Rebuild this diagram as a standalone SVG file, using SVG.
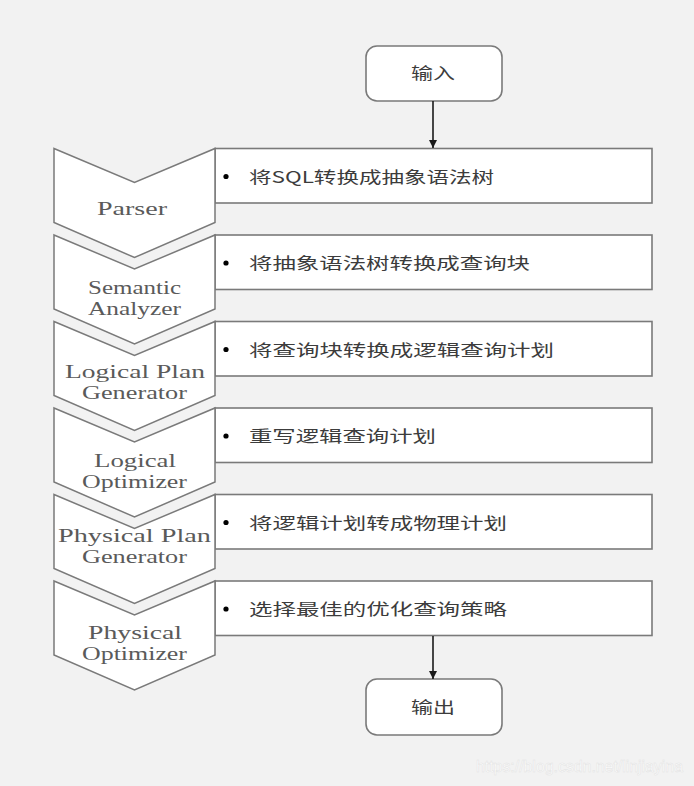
<svg xmlns="http://www.w3.org/2000/svg" width="694" height="786" viewBox="0 0 694 786">
<defs>
<style>
.bg{fill:#f2f2f2}
.chev{fill:#ffffff;stroke:#7a7a7a;stroke-width:1.5;stroke-linejoin:miter}
.box{fill:#ffffff;stroke:#7a7a7a;stroke-width:1.6}
.term{fill:#ffffff;stroke:#7a7a7a;stroke-width:1.6}
.bul{fill:#000000}
.cn{font-family:"Noto Sans CJK SC","Noto Sans",sans-serif;font-size:16px;fill:#3c3c3c}
.lab{font-family:"Liberation Serif","DejaVu Serif",serif;font-size:18px;fill:#5a5a5a;text-anchor:start}
.conn{stroke:#1a1a1a;stroke-width:1.6;fill:none}
.wm{font-family:"Liberation Sans",Arial,sans-serif;font-size:16px;fill:#ffffff;stroke:#e2e2e2;stroke-width:0.5}
</style>
<marker id="ah" viewBox="0 0 10 10" refX="10" refY="5" markerWidth="5" markerHeight="5" orient="auto" markerUnits="strokeWidth">
<path d="M0,0 L10,5 L0,10 z" fill="#1a1a1a"/>
</marker>
</defs>
<rect class="bg" x="0" y="0" width="694" height="786"/>

<g id="input">
<rect class="term" x="366" y="46" width="136" height="55" rx="11" ry="11"/>
<text class="cn" x="411" y="79" textLength="44" lengthAdjust="spacingAndGlyphs">输入</text>
</g>

<g id="stage1" transform="translate(0,148.5)">
<rect class="box" x="215" y="0" width="437" height="54.5"/>
<polygon class="chev" points="54,0 134.5,34 215,0 215,74 134.5,109 54,74"/>
<circle class="bul" cx="226" cy="28" r="2.6"/>
<text class="cn" x="249" y="34" textLength="245" lengthAdjust="spacingAndGlyphs">将SQL转换成抽象语法树</text>
<text class="lab" x="97" y="66" textLength="70" lengthAdjust="spacingAndGlyphs">Parser</text>
</g>

<g id="stage2" transform="translate(0,235)">
<rect class="box" x="215" y="0" width="437" height="54.5"/>
<polygon class="chev" points="54,0 134.5,34 215,0 215,74 134.5,109 54,74"/>
<circle class="bul" cx="226" cy="28" r="2.6"/>
<text class="cn" x="249" y="34" textLength="281" lengthAdjust="spacingAndGlyphs">将抽象语法树转换成查询块</text>
<text class="lab" x="88" y="59" textLength="93" lengthAdjust="spacingAndGlyphs">Semantic</text>
<text class="lab" x="88" y="80" textLength="93" lengthAdjust="spacingAndGlyphs">Analyzer</text>
</g>

<g id="stage3" transform="translate(0,321.5)">
<rect class="box" x="215" y="0" width="437" height="54.5"/>
<polygon class="chev" points="54,0 134.5,34 215,0 215,74 134.5,109 54,74"/>
<circle class="bul" cx="226" cy="28" r="2.6"/>
<text class="cn" x="249" y="34" textLength="305" lengthAdjust="spacingAndGlyphs">将查询块转换成逻辑查询计划</text>
<text class="lab" x="65" y="56" textLength="140" lengthAdjust="spacingAndGlyphs">Logical Plan</text>
<text class="lab" x="82" y="77" textLength="105" lengthAdjust="spacingAndGlyphs">Generator</text>
</g>

<g id="stage4" transform="translate(0,408)">
<rect class="box" x="215" y="0" width="437" height="54.5"/>
<polygon class="chev" points="54,0 134.5,34 215,0 215,74 134.5,109 54,74"/>
<circle class="bul" cx="226" cy="28" r="2.6"/>
<text class="cn" x="249" y="34" textLength="187" lengthAdjust="spacingAndGlyphs">重写逻辑查询计划</text>
<text class="lab" x="94" y="59" textLength="82" lengthAdjust="spacingAndGlyphs">Logical</text>
<text class="lab" x="82" y="80" textLength="105" lengthAdjust="spacingAndGlyphs">Optimizer</text>
</g>

<g id="stage5" transform="translate(0,494.5)">
<rect class="box" x="215" y="0" width="437" height="54.5"/>
<polygon class="chev" points="54,0 134.5,34 215,0 215,74 134.5,109 54,74"/>
<circle class="bul" cx="226" cy="28" r="2.6"/>
<text class="cn" x="249" y="34" textLength="258" lengthAdjust="spacingAndGlyphs">将逻辑计划转成物理计划</text>
<text class="lab" x="58" y="47" textLength="153" lengthAdjust="spacingAndGlyphs">Physical Plan</text>
<text class="lab" x="82" y="68" textLength="105" lengthAdjust="spacingAndGlyphs">Generator</text>
</g>

<g id="stage6" transform="translate(0,581)">
<rect class="box" x="215" y="0" width="437" height="54.5"/>
<polygon class="chev" points="54,0 134.5,34 215,0 215,74 134.5,109 54,74"/>
<circle class="bul" cx="226" cy="28" r="2.6"/>
<text class="cn" x="249" y="34" textLength="258" lengthAdjust="spacingAndGlyphs">选择最佳的优化查询策略</text>
<text class="lab" x="88" y="58" textLength="94" lengthAdjust="spacingAndGlyphs">Physical</text>
<text class="lab" x="82" y="79" textLength="105" lengthAdjust="spacingAndGlyphs">Optimizer</text>
</g>

<g id="output">
<rect class="term" x="366" y="679" width="136" height="56" rx="11" ry="11"/>
<text class="cn" x="411" y="713" textLength="44" lengthAdjust="spacingAndGlyphs">输出</text>
</g>

<g id="connectors">
<line class="conn" x1="433" y1="101" x2="433" y2="148" marker-end="url(#ah)"/>
<line class="conn" x1="433" y1="636" x2="433" y2="679" marker-end="url(#ah)"/>
</g>

<text class="wm" x="476" y="772" textLength="207" lengthAdjust="spacingAndGlyphs">https://blog.csdn.net/linjiayina</text>
</svg>
